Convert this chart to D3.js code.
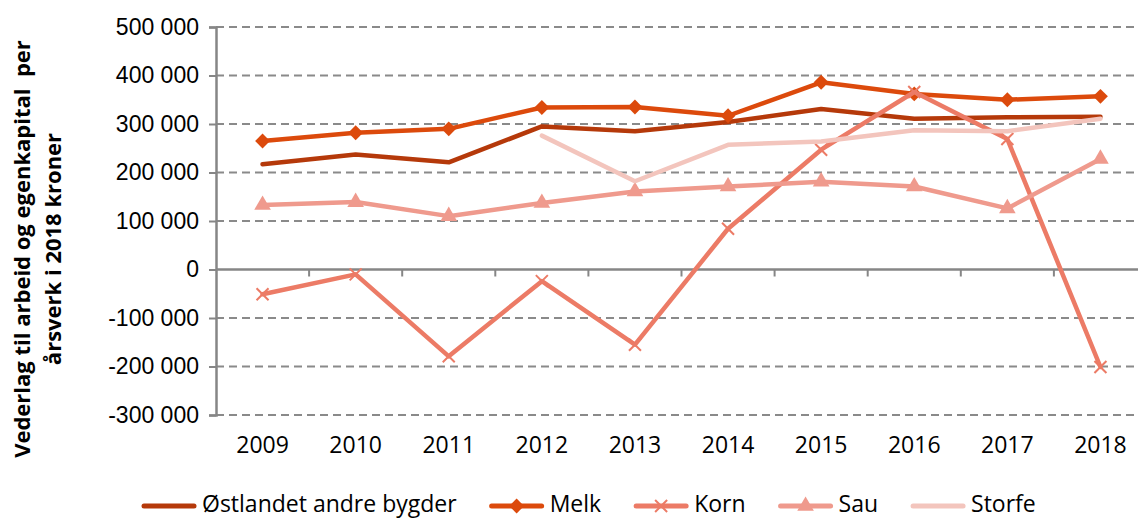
<!DOCTYPE html>
<html>
<head>
<meta charset="utf-8">
<script src="https://cdn.jsdelivr.net/npm/d3@7"></script>
<style>
  body { margin: 0; background: #fff; }
  svg { display: block; font-family: "Open Sans", sans-serif; }
</style>
</head>
<body>
<svg id="chart"></svg>
<script>
// data
const years = ["2009", "2010", "2011", "2012", "2013", "2014", "2015", "2016", "2017", "2018"];
const ostlandet = [217000, 237000, 221000, 295000, 285000, 304000, 331000, 311000, 314000, 315000];
const melk = [265000, 282000, 290000, 334000, 335000, 317000, 386000, 362000, 350000, 357000];
const korn = [-51000, -10000, -179000, -24000, -155000, 84000, 247000, 366000, 269000, -201000];
const sau = [133000, 139000, 110000, 137000, 161000, 171000, 181000, 171000, 126000, 228000];
const storfe = [null, null, null, 276000, 182000, 257000, 264000, 287000, 285000, 311000];
const yTicks = [-300000, -200000, -100000, 0, 100000, 200000, 300000, 400000, 500000];

const series = [
    { name: "Østlandet andre bygder", values: ostlandet, color: "#b5390a", marker: "none" },
    { name: "Melk", values: melk, color: "#dc4a0c", marker: "diamond" },
    { name: "Korn", values: korn, color: "#ec7b66", marker: "x" },
    { name: "Sau", values: sau, color: "#ef9a8d", marker: "triangle" },
    { name: "Storfe", values: storfe, color: "#f3c5bd", marker: "none" }
];

const width = 1138;
const height = 518;

const svg = d3.select("#chart")
    .attr("width", width)
    .attr("height", height);

const x = d3.scaleBand()
    .domain(years)
    .range([216, 1147]);

const y = d3.scaleLinear()
    .domain([-300000, 500000])
    .range([415, 27]);

const fmt = v => d3.format(",")(v).replace(/,/g, " ").replace("−", "-");

// dashed gridlines
svg.append("g")
    .selectAll("line")
    .data(yTicks.filter(d => d !== 0))
    .enter().append("line")
    .attr("x1", 216)
    .attr("x2", width)
    .attr("y1", d => y(d))
    .attr("y2", d => y(d))
    .attr("stroke", "#8a8a8a")
    .attr("stroke-width", 2)
    .attr("stroke-dasharray", "8,5");

// y axis
const yAxis = svg.append("g")
    .attr("transform", "translate(216,0)")
    .call(d3.axisLeft(y).tickValues(yTicks).tickSize(7).tickPadding(10).tickFormat(fmt));
yAxis.select(".domain").attr("stroke", "#868686").attr("stroke-width", 2.5);
yAxis.selectAll(".tick line").attr("stroke", "#868686").attr("stroke-width", 2);
yAxis.selectAll("text").attr("font-size", 23).attr("fill", "#000");

// x axis on the zero line, ticks between categories
const xAxis = svg.append("g")
    .attr("transform", `translate(0,${y(0)})`)
    .call(d3.axisBottom(x).tickSize(0).tickFormat(""));
xAxis.select(".domain").attr("stroke", "#868686").attr("stroke-width", 2.5)
    .attr("d", `M216,0H${width}`);
xAxis.selectAll(".sep")
    .data(years.slice(1))
    .enter().append("line")
    .attr("class", "sep")
    .attr("x1", d => x(d))
    .attr("x2", d => x(d))
    .attr("y1", 0)
    .attr("y2", 7)
    .attr("stroke", "#868686")
    .attr("stroke-width", 2);

// year labels at the bottom
svg.append("g")
    .selectAll("text")
    .data(years)
    .enter().append("text")
    .attr("x", d => x(d) + x.bandwidth() / 2)
    .attr("y", 453)
    .attr("text-anchor", "middle")
    .attr("font-size", 23)
    .text(d => d);

// axis title
const title = svg.append("text")
    .attr("transform", "translate(0,249) rotate(-90)")
    .attr("text-anchor", "middle")
    .attr("font-weight", "bold")
    .attr("font-size", 22);
title.append("tspan").attr("x", 0).attr("y", 30)
    .attr("xml:space", "preserve")
    .text("Vederlag til arbeid og egenkapital  per");
title.append("tspan").attr("x", 0).attr("y", 61).text("årsverk i 2018 kroner");

const cx = i => x(years[i]) + x.bandwidth() / 2;

function drawMarker(g, type, px, py, color) {
    if (type === "diamond") {
        g.append("path")
            .attr("d", d3.symbol(d3.symbolSquare, 110)())
            .attr("transform", `translate(${px},${py}) rotate(45)`)
            .attr("fill", color);
    } else if (type === "triangle") {
        g.append("path")
            .attr("d", d3.symbol(d3.symbolTriangle, 120)())
            .attr("transform", `translate(${px},${py})`)
            .attr("fill", color);
    } else if (type === "x") {
        g.append("path")
            .attr("d", "M-6,-6L6,6M-6,6L6,-6")
            .attr("transform", `translate(${px},${py})`)
            .attr("stroke", color)
            .attr("stroke-width", 2)
            .attr("fill", "none");
    }
}

const line = d3.line()
    .defined(d => d != null)
    .x((d, i) => cx(i))
    .y(d => y(d));

series.forEach(s => {
    const g = svg.append("g");
    g.append("path")
        .datum(s.values)
        .attr("d", line)
        .attr("fill", "none")
        .attr("stroke", s.color)
        .attr("stroke-width", 4.5)
        .attr("stroke-linejoin", "round")
        .attr("stroke-linecap", "round");
    s.values.forEach((v, i) => {
        if (v != null) drawMarker(g, s.marker, cx(i), y(v), s.color);
    });
});

// legend
const legend = svg.append("g");
let lx = 144;
const ly = 506;
series.forEach(s => {
    const g = legend.append("g");
    g.append("line")
        .attr("x1", lx).attr("x2", lx + 50)
        .attr("y1", ly).attr("y2", ly)
        .attr("stroke", s.color)
        .attr("stroke-width", 5)
        .attr("stroke-linecap", "round");
    drawMarker(g, s.marker, lx + 25, ly, s.color);
    const t = g.append("text")
        .attr("x", lx + 58)
        .attr("y", ly + 6)
        .attr("font-size", 23)
        .text(s.name);
    lx += 58 + t.node().getComputedTextLength() + 35;
});
</script>
</body>
</html>
